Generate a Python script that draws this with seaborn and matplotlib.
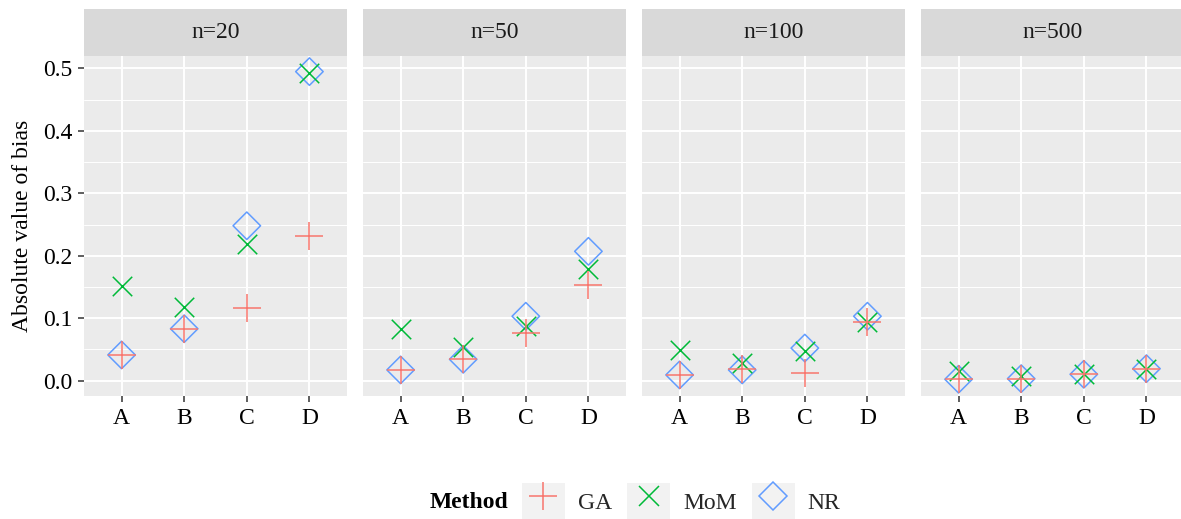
import pandas as pd
import seaborn as sns
import matplotlib.pyplot as plt
from matplotlib.lines import Line2D
from matplotlib.patches import Rectangle
from matplotlib.legend_handler import HandlerTuple
from matplotlib.ticker import MultipleLocator, FormatStrFormatter

sample_sizes = ["n=20", "n=50", "n=100", "n=500"]
params = ["A", "B", "C", "D"]
methods = ["GA", "MoM", "NR"]

# absolute bias, four params (A-D) per sample size, in sample_sizes order
ga_bias = [0.041, 0.083, 0.116, 0.231,
           0.017, 0.035, 0.076, 0.153,
           0.009, 0.018, 0.012, 0.094,
           0.002, 0.003, 0.010, 0.019]
mom_bias = [0.151, 0.118, 0.219, 0.493,
            0.083, 0.054, 0.087, 0.179,
            0.049, 0.028, 0.047, 0.093,
            0.015, 0.007, 0.010, 0.019]
nr_bias = [0.041, 0.083, 0.248, 0.495,
           0.017, 0.034, 0.103, 0.207,
           0.009, 0.017, 0.052, 0.103,
           0.002, 0.003, 0.010, 0.019]

colors = {"GA": "#F8766D", "MoM": "#00BA38", "NR": "#619CFF"}
markers = {"GA": ("+", 20), "MoM": ("x", 14), "NR": ("D", 14)}

rows = []
for m, vals in zip(methods, [ga_bias, mom_bias, nr_bias]):
    for i, v in enumerate(vals):
        rows.append({"n": sample_sizes[i // 4], "param": params[i % 4],
                     "Method": m, "bias": v})
df = pd.DataFrame(rows)

sns.set_theme(style="darkgrid", rc={"axes.facecolor": "#EBEBEB",
                                    "grid.color": "white"})
plt.rcParams["font.family"] = ["Liberation Serif", "DejaVu Serif"]
fs = 17

W, H = 1181, 519
fig = plt.figure(figsize=(W / 100, H / 100), dpi=100)

panel_w = 263
for k, n in enumerate(sample_sizes):
    left = 84 + k * 279
    ax = fig.add_axes([left / W, 1 - 396 / H, panel_w / W, 340 / H])
    # draw NR first so the GA crosses sit on top, as in the original
    for m in ["NR", "MoM", "GA"]:
        sub = df[(df["n"] == n) & (df["Method"] == m)]
        mk, ms = markers[m]
        sns.scatterplot(data=sub, x="param", y="bias", marker=mk, s=ms ** 2,
                        color=colors[m], linewidth=1.1, ax=ax, legend=False,
                        zorder=3)
        if m == "NR":
            coll = ax.collections[-1]
            coll.set_facecolor("none")
            coll.set_edgecolor(colors[m])

    ax.set_xlim(-0.6, 3.6)
    ax.set_ylim(-0.0248, 0.52)
    ax.yaxis.set_major_locator(MultipleLocator(0.1))
    ax.yaxis.set_minor_locator(MultipleLocator(0.05))
    ax.yaxis.set_major_formatter(FormatStrFormatter("%.1f"))
    ax.grid(which="major", color="white", linewidth=1.4)
    ax.grid(which="minor", axis="y", color="white", linewidth=0.7)
    for s in ax.spines.values():
        s.set_visible(False)
    ax.tick_params(which="major", bottom=True, left=(k == 0), length=4.3,
                   width=1.1, color="#333333", labelsize=fs,
                   labelcolor="black")
    ax.tick_params(axis="x", pad=4.5)
    ax.tick_params(axis="y", pad=4.3)
    ax.tick_params(which="minor", length=0)
    ax.set_xlabel("")
    if k == 0:
        ax.set_ylabel("Absolute value of bias", fontsize=fs, color="black",
                      labelpad=7)
    else:
        ax.set_ylabel("")
        ax.tick_params(labelleft=False)

    # facet strip
    sax = fig.add_axes([left / W, 1 - 56 / H, panel_w / W, 47 / H])
    sax.set_facecolor("#D9D9D9")
    sax.set_xticks([])
    sax.set_yticks([])
    sax.grid(False)
    for s in sax.spines.values():
        s.set_visible(False)
    sax.text(0.5, 0.5, n, ha="center", va="center", fontsize=fs,
             color="#1A1A1A", transform=sax.transAxes)

# legend at the bottom
fig.text(430 / W, 1 - 502 / H, "Method", fontsize=fs, fontweight="bold",
         va="center", ha="left", color="black")
handles = []
for m in methods:
    mk, ms = markers[m]
    key_bg = Rectangle((0, 0), 1, 1, facecolor="#F2F2F2", edgecolor="none")
    mark = Line2D([], [], linestyle="none", marker=mk, markersize=ms,
                  markeredgewidth=1.1, color=colors[m],
                  markerfacecolor="none", markeredgecolor=colors[m])
    handles.append((key_bg, mark))
fig.legend(handles, methods, loc="center left",
           bbox_to_anchor=(522 / W, 1 - 502 / H), ncol=3, frameon=False,
           handlelength=1.82, handleheight=2.1, handletextpad=0.55,
           columnspacing=0.64, borderpad=0, borderaxespad=0, fontsize=fs,
           handler_map={tuple: HandlerTuple(ndivide=1)})

fig.savefig("out.png", dpi=100)
